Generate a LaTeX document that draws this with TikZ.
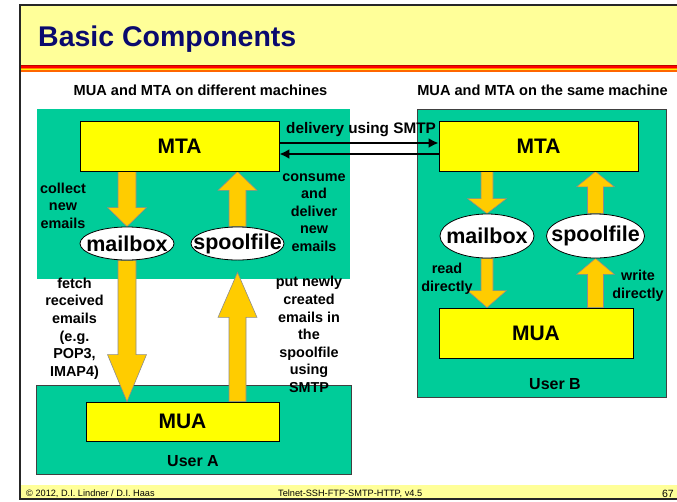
\documentclass[tikz,border=0pt]{standalone}
\usepackage{fontspec}
\setmainfont{Liberation Sans}
\usetikzlibrary{calc,shapes.geometric,arrows.meta}
\definecolor{hdr}{HTML}{FFFF99}
\definecolor{grn}{HTML}{00CC99}
\definecolor{ybox}{HTML}{FFFF00}
\definecolor{arr}{HTML}{FFCC00}
\definecolor{navy}{HTML}{0A0A6E}
\newcommand{\fs}[2]{\fontsize{#1}{#2}\selectfont}
\pgfdeclarelayer{back}
\pgfdeclarelayer{mid}
\pgfsetlayers{back,mid,main}
% vertical block arrow: #1 start, #2 tip, #3 half shaft, #4 half head, #5 head length
\newcommand{\blockarrow}[5]{%
  \path[blockarr] let \p1=#1, \p2=#2, \n1={sign(\y2-\y1)} in
    ({\x1-#3},\y1) -- ({\x1-#3},{\y2-(\n1)*#5}) -- ({\x1-#4},{\y2-(\n1)*#5}) -- (\x1,\y2)
    -- ({\x1+#4},{\y2-(\n1)*#5}) -- ({\x1+#3},{\y2-(\n1)*#5}) -- ({\x1+#3},\y1) -- cycle;}
\begin{document}
\begin{tikzpicture}[x=1pt,y=-1pt,
  txt/.style={inner sep=0pt, font=\fs{14.4}{17.6}\bfseries, align=center},
  box/.style={draw=black, line width=0.8pt, fill=ybox, inner sep=0pt, font=\fs{21}{24}\bfseries},
  ell/.style={draw=black, line width=0.8pt, fill=white, ellipse, inner sep=0pt},
  ellbl/.style={label={[font=\fs{21.5}{24}\bfseries, inner sep=0pt]center:#1}},
  machine/.style={fill=grn, inner sep=0pt},
  machineb/.style={fill=grn, draw=black!75, line width=0.8pt, inner sep=0pt},
  blockarr/.style={fill=arr, draw=black!45, line width=0.6pt},
  conn/.style={line width=2.6pt, -{Latex[length=10pt,width=10pt]}},
  foot/.style={inner sep=0pt, font=\fs{9.2}{11}}
]
\useasboundingbox (0,0) rectangle (677,501);
% slide frame
\fill[hdr] (20,5) rectangle (677,65);
\fill[hdr] (20,485) rectangle (677,499);
\fill[red!75!black] (20,65) rectangle (677,66.2);
\fill[red] (20,66.2) rectangle (677,67.6);
\fill[orange] (20,67.6) rectangle (677,69);
\fill[yellow] (20,69) rectangle (677,70.2);
\fill[orange!80!red] (20,70.2) rectangle (677,72);
\draw[line width=1.5pt, black!85] (677,5) -- (20,5) -- (20,499) -- (677,499);
\node[inner sep=0pt, anchor=base west, text=navy, font=\fs{28.5}{32}\bfseries] (title) at (38,46) {Basic Components};
\node[txt, anchor=base, font=\fs{14.6}{17}\bfseries] (subA) at (200.5,95) {MUA and MTA on different machines};
\node[txt, anchor=base, font=\fs{14.6}{17}\bfseries] (subB) at (542.5,95) {MUA and MTA on the same machine};
% machines
\begin{pgfonlayer}{back}
\node[machine, minimum width=313pt, minimum height=170pt] (greenA) at (193.5,194) {};
\node[machineb, minimum width=315pt, minimum height=89pt] (userA) at (193.5,429.5) {};
\node[machineb, minimum width=249pt, minimum height=288pt] (greenB) at (541.5,253) {};
\end{pgfonlayer}
% components left
\node[box, minimum width=199pt, minimum height=50pt] (mtaA) at (179.5,146) {MTA};
\node[box, minimum width=193pt, minimum height=39pt] (muaA) at (182.5,421.5) {MUA};
\node[ell, minimum width=94pt, minimum height=33pt, ellbl=mailbox] (mbA) at (127,243.5) {};
\node[ell, minimum width=93pt, minimum height=33pt, ellbl=spoolfile] (spA) at (237.5,243.5) {};
% components right
\node[box, minimum width=199pt, minimum height=50pt] (mtaB) at (538.5,146) {MTA};
\node[box, minimum width=194pt, minimum height=50pt] (muaB) at (536,333) {MUA};
\node[ell, minimum width=94pt, minimum height=44pt, ellbl=mailbox] (mbB) at (487,236) {};
\node[ell, minimum width=98pt, minimum height=44pt, ellbl=spoolfile] (spB) at (595.5,236) {};
% block arrows
\begin{pgfonlayer}{mid}
\blockarrow{(mtaA.south -| mbA.north)}{(mbA.north)}{9pt}{19.5pt}{19pt}
\blockarrow{(spA.north)}{(mtaA.south -| spA.north)}{8.5pt}{19.5pt}{19pt}
\blockarrow{(mbA.south)}{(muaA.north -| mbA.south)}{9pt}{19.5pt}{47pt}
\blockarrow{(muaA.north -| spA.south)}{($(spA.south)+(0,12)$)}{8.5pt}{19.5pt}{45pt}
\blockarrow{(mtaB.south -| mbB.north)}{(mbB.north)}{6pt}{19.5pt}{15pt}
\blockarrow{(spB.north)}{(mtaB.south -| spB.north)}{8pt}{19pt}{15.5pt}
\blockarrow{(mbB.south)}{(muaB.north -| mbB.south)}{6pt}{19.5pt}{17pt}
\blockarrow{(muaB.north -| spB.south)}{(spB.south)}{8pt}{19pt}{16pt}
\end{pgfonlayer}
% SMTP connectors
\draw[conn] (mtaA.east |- 0,143) -- (mtaB.west |- 0,143);
\draw[conn] (mtaB.west |- 0,154) -- (mtaA.east |- 0,154);
\node[txt, anchor=base west, font=\fs{15.3}{18}\bfseries] (deliv) at (286,133) {delivery using SMTP};
% labels
\node[txt] (lcollect) at (63,205.5) {collect\\new\\emails};
\node[txt] (lconsume) at (314,212.5) {consume\\and\\deliver\\new\\emails};
\node[txt] (lfetch) at (74.5,328.5) {fetch\\received\\emails\\(e.g.\\POP3,\\IMAP4)};
\node[txt] (lput) at (309,334.5) {put newly\\created\\emails in\\the\\spoolfile\\using\\SMTP};
\node[txt] (lread) at (447,278.5) {read\\directly};
\node[txt] (lwrite) at (638,286) {write\\directly};
\node[txt, anchor=base, font=\fs{16}{18}\bfseries] (luA) at (193,466.7) {User A};
\node[txt, anchor=base, font=\fs{16}{18}\bfseries] (luB) at (555,389) {User B};
% footer
\node[foot, anchor=base west] (f1) at (26,496.5) {\textcopyright{} 2012, D.I. Lindner / D.I. Haas};
\node[foot, anchor=base west] (f2) at (278,496.5) {Telnet-SSH-FTP-SMTP-HTTP, v4.5};
\node[foot, anchor=base east, font=\fs{10.5}{12}] (f3) at (674,497) {67};
\end{tikzpicture}
\end{document}
